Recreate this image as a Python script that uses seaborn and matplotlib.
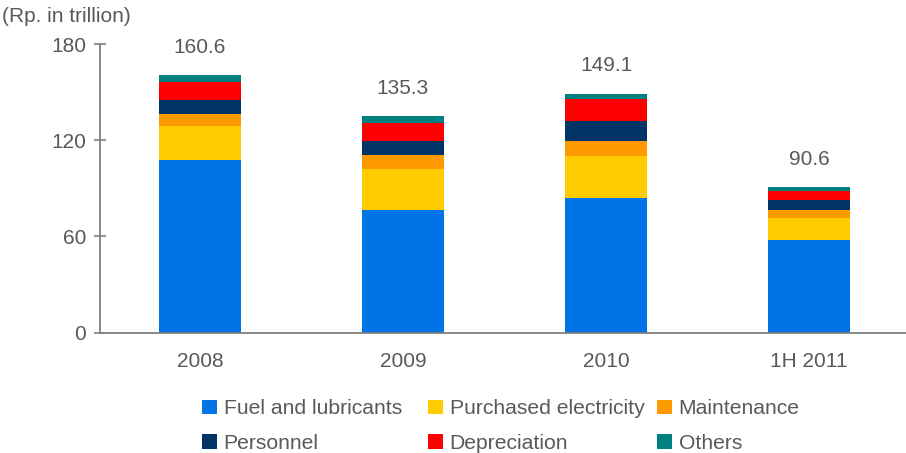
import matplotlib
matplotlib.use("Agg")
import matplotlib.pyplot as plt
from matplotlib.patches import Patch
import numpy as np
import pandas as pd
import seaborn as sns

# Operating expenses by component (Rp. in trillion)
periods = ["2008", "2009", "2010", "1H 2011"]
series_names = ["Fuel and lubricants", "Purchased electricity", "Maintenance",
                "Personnel", "Depreciation", "Others"]
fuel = [107.5, 76.7, 84.1, 57.9]
purchased = [21.1, 25.0, 26.2, 13.8]
maintenance = [7.5, 8.8, 9.4, 5.0]
personnel = [8.7, 9.2, 12.5, 6.2]
depreciation = [11.3, 11.2, 13.7, 5.4]
others = [4.5, 4.4, 3.2, 2.3]
yticks = [0, 60, 120, 180]

colors = ["#0073E6", "#FFCC00", "#FF9900", "#003366", "#FF0000", "#008080"]
text_color = "#595959"
axis_color = "#808080"

sns.set_style("white")
plt.rcParams["font.family"] = ["Liberation Sans", "DejaVu Sans"]

df = pd.DataFrame(
    {"period": periods, "Fuel and lubricants": fuel, "Purchased electricity": purchased,
     "Maintenance": maintenance, "Personnel": personnel, "Depreciation": depreciation,
     "Others": others}
)
# cumulative heights so each layer is drawn as a full bar from zero
cum = df[series_names].cumsum(axis=1)
totals = cum[series_names[-1]].round(1)

W, H = 906, 453
fig = plt.figure(figsize=(W / 100, H / 100), dpi=100)
ax = fig.add_axes([100 / W, (H - 332.5) / H, (W - 100) / W, (332.5 - 44) / H])

bar_w = 82 / 203
for name, col in reversed(list(zip(series_names, colors))):
    sns.barplot(x=df["period"], y=cum[name], order=periods, color=col,
                width=bar_w, saturation=1, ax=ax, linewidth=0)

# totals above each stack
top = ax.containers[0]
ax.bar_label(top, labels=[f"{v:.1f}" for v in totals], padding=13,
             fontsize=15, color=text_color)

ax.set_ylim(0, 180)
ax.set_xlim(-100 / 203, (W - 200) / 203)
ax.set_yticks(yticks)
ax.set_yticklabels([str(v) for v in yticks])
ax.set_xlabel("")
ax.set_ylabel("")

for s in ["top", "right"]:
    ax.spines[s].set_visible(False)
for s in ["left", "bottom"]:
    ax.spines[s].set_color(axis_color)
    ax.spines[s].set_linewidth(1.3)
ax.tick_params(axis="y", direction="inout", length=8, width=1.2, color=axis_color,
               labelsize=15, labelcolor=text_color, pad=6, left=True)
ax.tick_params(axis="x", length=0, labelsize=15, labelcolor=text_color, pad=14)

fig.text(2 / W, 1 - 17 / H, "(Rp. in trillion)", ha="left", va="center",
         fontsize=15, color=text_color)

# legend: three fixed-width columns, two rows each
handles = [Patch(facecolor=c, edgecolor="none") for c in colors]
col_x = [202, 428, 657]
for j, x0 in enumerate(col_x):
    idx = [j, j + 3]
    leg = fig.legend([handles[i] for i in idx], [series_names[i] for i in idx],
                     loc="center left", bbox_to_anchor=(x0 / W, 1 - 426 / H),
                     frameon=False, fontsize=15.2, handlelength=0.7,
                     handleheight=0.7, handletextpad=0.33, labelspacing=0.72,
                     borderpad=0, borderaxespad=0)
    for t in leg.get_texts():
        t.set_color(text_color)

fig.savefig("out.png", dpi=100)
